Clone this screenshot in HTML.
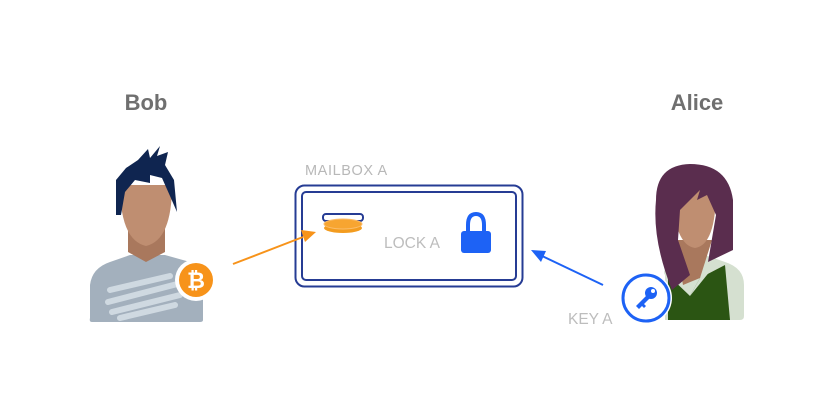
<!DOCTYPE html>
<html><head><style>
html,body{margin:0;padding:0;background:#fff;}
svg{display:block;}
text{font-family:"Liberation Sans",sans-serif;}
</style></head><body>
<svg width="834" height="417" viewBox="0 0 834 417">
<rect width="834" height="417" fill="#fff"/>
<text x="146" y="110" text-anchor="middle" font-size="22" font-weight="bold" fill="#6f6f6f">Bob</text>
<text x="697" y="110" text-anchor="middle" font-size="22" font-weight="bold" fill="#6f6f6f">Alice</text>
<!-- Bob -->
<path d="M90 285 Q92 268 110 262 L130 255 L165 255 L190 262 Q200 268 203 285 L203 320 Q203 322 200 322 L92 322 Q89 322 90 318 Z" fill="#a3b0bd"/>
<path d="M110 290 L170 276 M108 302 L185 282 M112 312 L180 295 M120 318 L175 305" stroke="#cfd9e1" stroke-width="6" stroke-linecap="round"/>
<path d="M128 228 L128 252 L146 262 L165 252 L165 228 Z" fill="#a9785d"/>
<path d="M120 185 Q120 240 146 246 Q172 240 172 185 Z" fill="#bf8e71"/>
<path d="M116 215 L116 180 L126 168 L138 160 L148 149 L150 158 L160 146 L157 156 L168 152 L165 165 L174 180 L177 212 L170 196 L162 178 L150 175 L150 183 L135 180 L125 192 L121 215 Z" fill="#0f2550"/>
<circle cx="196" cy="280" r="21" fill="#fff"/>
<circle cx="196" cy="280" r="17" fill="#f7931a"/>
<text x="196" y="288" text-anchor="middle" font-size="22" font-weight="bold" fill="#fff">₿</text>
<!-- Alice -->
<path d="M665 275 Q660 268 680 262 L705 255 L725 262 Q744 268 744 285 L744 316 Q744 320 740 320 L665 320 Z" fill="#d5e0d0"/>
<path d="M668 275 L690 296 L700 278 L725 265 L730 320 L668 320 Z" fill="#2b5513"/>
<path d="M690 296 L700 278 L715 265 Z" fill="#d5e0d0"/>
<path d="M675 240 L683 285 L700 278 L712 240 Z" fill="#a9785d"/>
<path d="M672 190 Q674 245 695 248 Q716 245 716 190 Z" fill="#bf8e71"/>
<path d="M656 200 Q656 165 690 164 Q728 164 733 200 L733 250 L708 262 L716 215 L707 195 L697 200 L700 190 L680 210 L678 240 L690 275 L672 290 Q652 240 656 200 Z" fill="#5a2d4e"/>
<circle cx="646" cy="298" r="26" fill="#fff"/>
<circle cx="646" cy="298" r="23" fill="#fff" stroke="#1d62f5" stroke-width="3"/>
<g fill="#1d62f5"><circle cx="651" cy="293" r="6"/><path d="M648 294 L636 306 L639 309 L642 306 L644 308 L646 306 L644 304 L651 297 Z"/></g>
<circle cx="653" cy="291" r="2" fill="#fff"/>
<!-- mailbox -->
<text x="305" y="175" font-size="14.5" fill="#b8b8b8" letter-spacing="0.6">MAILBOX A</text>
<rect x="295.5" y="185.5" width="227" height="101" rx="9" fill="none" stroke="#263c94" stroke-width="2"/>
<rect x="302" y="192" width="214" height="88" rx="4" fill="none" stroke="#263c94" stroke-width="2"/>
<rect x="323" y="214" width="40" height="7" rx="3" fill="#fff" stroke="#263c94" stroke-width="2"/>
<ellipse cx="343" cy="228" rx="19" ry="5" fill="#f39c1f"/>
<ellipse cx="343" cy="224" rx="19" ry="5" fill="#f7a531" stroke="#fbbd6a" stroke-width="1"/>
<text x="384" y="248" font-size="15.5" fill="#bdbdbd">LOCK A</text>
<path d="M468 232 L468 225 Q468 214 476 214 Q484 214 484 225 L484 232" fill="none" stroke="#1d62f5" stroke-width="4"/>
<rect x="461" y="231" width="30" height="22" rx="3" fill="#1d62f5"/>
<!-- arrows -->
<line x1="233" y1="264" x2="303" y2="237" stroke="#f7931a" stroke-width="2"/>
<path d="M316 232 L301 230 L305 242 Z" fill="#f7931a"/>
<line x1="603" y1="285" x2="540" y2="255" stroke="#1d62f5" stroke-width="2"/>
<path d="M531 250 L546 251 L541 262 Z" fill="#1d62f5"/>
<text x="568" y="324" font-size="15.5" fill="#bdbdbd">KEY A</text>
</svg>
</body></html>
